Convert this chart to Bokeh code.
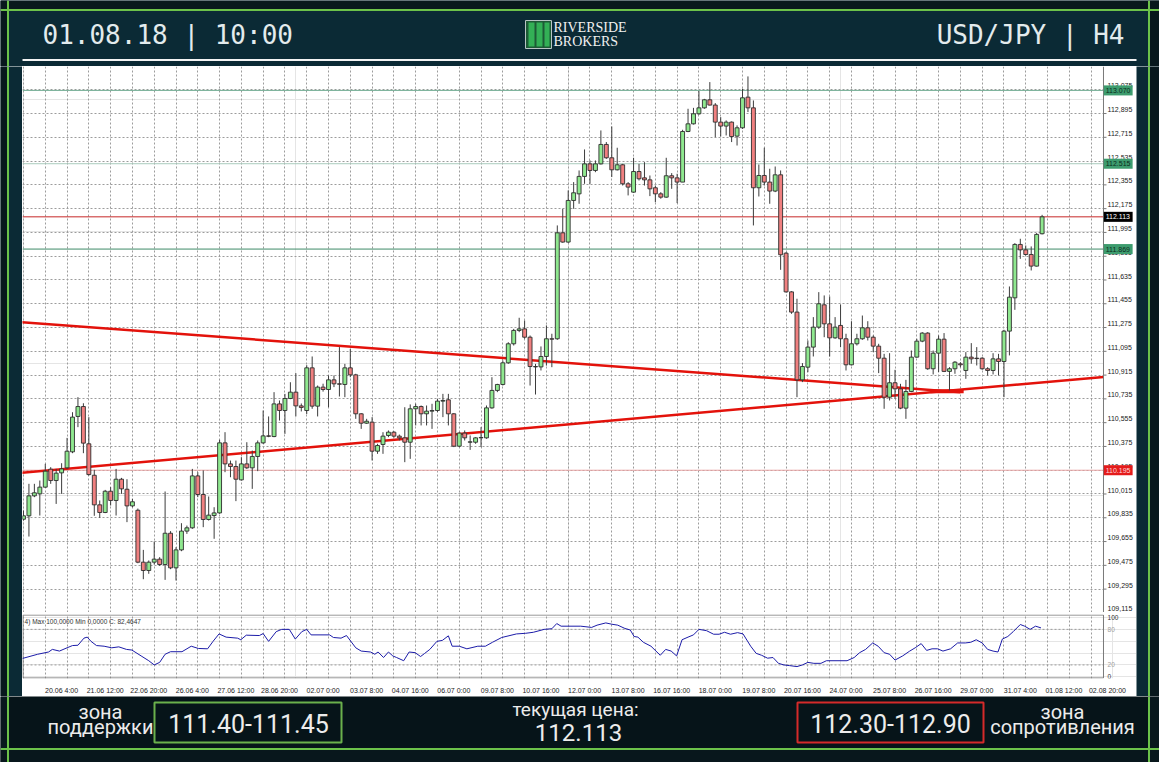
from bokeh.plotting import figure
from bokeh.layouts import column, row
from bokeh.models import Range1d, FixedTicker, LinearAxis, Grid, Span, Label, ColumnDataSource
from bokeh.core.properties import value
from bokeh.embed import file_html
from bokeh.resources import INLINE

# ---------------- data ----------------
header_left = "01.08.18 | 10:00"
header_right = "USD/JPY | H4"
logo_lines = ["RIVERSIDE", "BROKERS"]

opens = [
    109.824, 109.850, 110.001, 110.016, 110.067, 110.203, 110.117, 110.175, 110.213, 110.334,
    110.602, 110.677, 110.395, 110.157, 109.933, 109.875, 110.036, 109.966, 110.127, 110.051,
    109.925, 109.892, 109.499, 109.436, 109.499, 109.522, 109.481, 109.718, 109.456, 109.592,
    109.734, 109.759, 110.152, 110.011, 109.822, 109.852, 109.872, 110.402, 110.243, 110.223,
    110.122, 110.243, 110.213, 110.299, 110.402, 110.455, 110.450, 110.697, 110.647, 110.738,
    110.786, 110.682, 110.647, 110.970, 110.680, 110.824, 110.806, 110.879, 110.849, 110.844,
    110.970, 110.917, 110.622, 110.551, 110.559, 110.339, 110.390, 110.458, 110.483, 110.453,
    110.440, 110.407, 110.660, 110.677, 110.622, 110.642, 110.647, 110.718, 110.728, 110.622,
    110.377, 110.476, 110.407, 110.407, 110.440, 110.440, 110.667, 110.799, 110.844, 111.008,
    111.152, 111.253, 111.265, 111.202, 110.980, 110.977, 111.056, 111.190, 111.190, 111.992,
    111.922, 112.237, 112.287, 112.419, 112.514, 112.464, 112.514, 112.661, 112.560, 112.469,
    112.507, 112.363, 112.300, 112.456, 112.408, 112.393, 112.333, 112.287, 112.262, 112.424,
    112.408, 112.376, 112.759, 112.817, 112.893, 112.938, 112.999, 112.959, 112.830, 112.800,
    112.830, 112.724, 112.787, 113.019, 112.938, 112.333, 112.426, 112.376, 112.308, 112.431,
    111.838, 111.545, 111.392, 110.879, 110.975, 111.127, 111.278, 111.447, 111.303, 111.197,
    111.291, 111.190, 110.993, 111.152, 111.190, 111.273, 111.202, 111.134, 111.043, 110.748,
    110.857, 110.811, 110.665, 110.791, 111.051, 111.172, 111.233, 110.963, 111.081, 111.187,
    110.943, 110.963, 111.000, 110.950, 111.051, 111.043, 111.043, 110.963, 110.950, 111.038,
    111.018, 111.248, 111.500, 111.904, 111.863, 111.828, 111.740, 111.985,
]
highs = [
    109.890, 110.092, 110.092, 110.117, 110.243, 110.218, 110.205, 110.248, 110.440, 110.634,
    110.748, 110.702, 110.597, 110.198, 109.966, 110.046, 110.067, 110.205, 110.137, 110.127,
    109.978, 109.905, 109.592, 109.512, 109.655, 109.537, 110.034, 109.734, 109.612, 109.794,
    109.776, 110.205, 110.180, 110.193, 109.996, 109.915, 110.425, 110.483, 110.268, 110.268,
    110.294, 110.407, 110.344, 110.420, 110.647, 110.602, 110.786, 110.723, 110.773, 110.861,
    110.930, 110.700, 110.990, 111.056, 110.836, 110.850, 110.912, 110.912, 111.127, 111.000,
    111.114, 110.925, 110.627, 110.584, 110.597, 110.395, 110.483, 110.496, 110.491, 110.465,
    110.672, 110.693, 110.698, 110.685, 110.685, 110.698, 110.735, 110.773, 110.773, 110.627,
    110.483, 110.496, 110.458, 110.445, 110.521, 110.685, 110.899, 110.849, 111.026, 111.164,
    111.265, 111.349, 111.328, 111.215, 111.000, 111.132, 111.291, 111.228, 112.048, 112.174,
    112.313, 112.376, 112.464, 112.623, 112.540, 112.540, 112.767, 112.679, 112.797, 112.636,
    112.514, 112.376, 112.560, 112.514, 112.527, 112.426, 112.350, 112.300, 112.560, 112.444,
    112.439, 112.772, 112.931, 112.938, 113.065, 113.006, 113.133, 112.974, 112.868, 112.843,
    112.835, 112.805, 113.082, 113.176, 112.994, 112.509, 112.636, 112.477, 112.494, 112.464,
    111.846, 111.550, 111.493, 111.006, 111.177, 111.354, 111.543, 111.518, 111.510, 111.354,
    111.450, 111.228, 111.323, 111.228, 111.366, 111.323, 111.215, 111.152, 111.076, 111.081,
    110.955, 110.849, 110.879, 111.101, 111.190, 111.240, 111.240, 111.101, 111.215, 111.233,
    110.975, 111.021, 111.013, 111.089, 111.157, 111.127, 111.051, 110.975, 111.081, 111.076,
    111.258, 111.586, 111.914, 111.947, 111.896, 111.889, 111.990, 112.128,
]
lows = [
    109.814, 109.693, 109.991, 109.852, 110.062, 110.092, 109.940, 110.016, 110.205, 110.324,
    110.521, 110.324, 110.155, 109.850, 109.834, 109.870, 109.928, 109.852, 110.016, 109.802,
    109.915, 109.491, 109.370, 109.411, 109.481, 109.471, 109.365, 109.446, 109.360, 109.582,
    109.713, 109.751, 109.991, 109.764, 109.814, 109.676, 109.865, 110.180, 110.142, 109.961,
    110.117, 110.205, 110.054, 110.188, 110.395, 110.445, 110.445, 110.571, 110.470, 110.733,
    110.602, 110.640, 110.620, 110.660, 110.602, 110.790, 110.672, 110.824, 110.753, 110.748,
    110.899, 110.584, 110.508, 110.546, 110.269, 110.319, 110.319, 110.445, 110.440, 110.420,
    110.256, 110.281, 110.534, 110.534, 110.534, 110.508, 110.634, 110.597, 110.534, 110.370,
    110.370, 110.420, 110.349, 110.395, 110.370, 110.433, 110.660, 110.786, 110.836, 111.000,
    111.139, 111.240, 111.190, 110.836, 110.768, 110.950, 110.987, 110.975, 111.182, 111.917,
    111.917, 112.174, 112.212, 112.363, 112.363, 112.451, 112.509, 112.552, 112.414, 112.464,
    112.350, 112.275, 112.295, 112.388, 112.350, 112.270, 112.224, 112.250, 112.257, 112.325,
    112.217, 112.376, 112.754, 112.812, 112.885, 112.931, 112.956, 112.716, 112.721, 112.729,
    112.679, 112.653, 112.779, 112.906, 112.048, 112.267, 112.350, 112.212, 112.300, 111.712,
    111.540, 111.379, 110.748, 110.862, 110.937, 111.056, 111.265, 111.202, 111.056, 111.190,
    111.127, 110.950, 110.988, 111.139, 111.182, 111.177, 111.089, 110.930, 110.660, 110.723,
    110.736, 110.657, 110.584, 110.786, 111.046, 111.164, 110.955, 110.920, 110.938, 110.938,
    110.799, 110.925, 110.975, 110.887, 111.001, 110.988, 110.955, 110.912, 110.920, 110.912,
    110.748, 111.064, 111.409, 111.795, 111.821, 111.707, 111.737, 111.980,
]
closes = [
    109.850, 110.001, 110.024, 110.067, 110.188, 110.117, 110.173, 110.205, 110.339, 110.597,
    110.677, 110.400, 110.162, 109.933, 109.875, 110.036, 109.966, 110.127, 110.054, 109.925,
    109.956, 109.499, 109.436, 109.499, 109.522, 109.481, 109.718, 109.456, 109.592, 109.734,
    109.759, 110.152, 110.011, 109.822, 109.855, 109.872, 110.402, 110.243, 110.223, 110.127,
    110.243, 110.213, 110.299, 110.402, 110.455, 110.452, 110.697, 110.647, 110.738, 110.786,
    110.682, 110.670, 110.970, 110.680, 110.824, 110.806, 110.879, 110.849, 110.846, 110.970,
    110.917, 110.622, 110.551, 110.566, 110.339, 110.382, 110.453, 110.483, 110.453, 110.440,
    110.407, 110.660, 110.677, 110.622, 110.642, 110.647, 110.718, 110.723, 110.622, 110.377,
    110.476, 110.440, 110.410, 110.440, 110.443, 110.667, 110.799, 110.844, 111.008, 111.152,
    111.253, 111.265, 111.202, 110.980, 110.977, 111.056, 111.190, 111.187, 111.992, 111.922,
    112.237, 112.295, 112.419, 112.514, 112.464, 112.514, 112.661, 112.560, 112.469, 112.507,
    112.363, 112.338, 112.456, 112.401, 112.393, 112.325, 112.287, 112.262, 112.424, 112.408,
    112.376, 112.759, 112.817, 112.893, 112.938, 112.999, 112.959, 112.830, 112.800, 112.830,
    112.721, 112.787, 113.014, 112.938, 112.333, 112.426, 112.376, 112.308, 112.431, 111.826,
    111.545, 111.392, 110.879, 110.980, 111.127, 111.278, 111.455, 111.303, 111.197, 111.278,
    111.190, 110.993, 111.152, 111.190, 111.273, 111.202, 111.134, 111.043, 110.748, 110.857,
    110.811, 110.665, 110.791, 111.051, 111.172, 111.233, 110.963, 111.081, 111.187, 110.943,
    110.963, 111.013, 110.993, 111.051, 111.038, 111.040, 110.963, 110.950, 111.038, 111.018,
    111.248, 111.505, 111.904, 111.863, 111.828, 111.740, 111.980, 112.113,
]

# oscillator (bar position, value)
osc_points = [
    (-0.2, 30.9), (2.6, 38.0), (4.6, 41.8), (5.3, 46.2), (6.6, 43.4), (8.0, 48.9), (9.0, 52.7),
    (10.0, 53.2), (11.1, 65.2), (11.7, 66.9), (12.4, 59.8), (13.4, 52.7), (14.8, 51.6), (16.2, 48.9),
    (17.5, 50.5), (18.9, 46.2), (19.9, 45.1), (21.6, 35.2), (23.0, 27.1), (24.0, 20.0), (25.0, 24.3),
    (26.0, 38.0), (27.0, 42.3), (29.1, 42.3), (30.8, 51.6), (32.1, 47.8), (33.8, 47.2), (34.8, 59.8),
    (35.9, 72.3), (37.2, 66.9), (39.3, 65.2), (39.9, 62.5), (40.9, 70.2), (43.3, 69.6), (44.0, 72.9),
    (45.0, 59.8), (46.4, 76.2), (47.4, 80.0), (48.8, 80.0), (49.9, 63.6), (51.1, 76.2), (52.0, 80.0),
    (52.8, 70.7), (56.2, 70.7), (56.9, 66.3), (58.3, 65.2), (59.3, 69.6), (61.0, 48.9), (62.0, 43.4),
    (63.7, 41.8), (64.5, 38.0), (65.1, 41.8), (66.1, 32.5), (67.0, 41.8), (67.8, 35.2), (68.5, 32.5),
    (69.8, 27.1), (70.8, 41.8), (71.9, 40.7), (72.9, 34.2), (73.6, 39.1), (74.6, 46.2), (75.9, 59.8),
    (76.9, 61.4), (78.0, 69.1), (78.7, 51.6), (80.0, 51.6), (81.4, 47.2), (83.4, 51.6), (84.8, 51.6),
    (86.1, 58.2), (87.8, 66.3), (90.5, 72.3), (92.2, 73.4), (93.6, 75.1), (95.6, 80.0), (97.0, 81.1),
    (97.9, 89.8), (98.7, 85.4), (102.3, 85.4), (104.3, 83.3), (105.3, 87.1), (106.9, 90.9), (108.0, 88.7),
    (109.1, 87.1), (110.4, 81.6), (111.4, 78.9), (112.1, 68.0), (112.8, 66.9), (113.8, 58.2), (115.2, 51.6),
    (116.9, 36.3), (117.9, 46.2), (118.9, 43.4), (119.9, 35.2), (120.9, 62.5), (122.0, 66.9), (123.0, 70.7),
    (124.0, 80.0), (125.4, 77.8), (126.7, 71.8), (127.7, 71.8), (128.7, 75.1), (129.8, 71.8), (131.1, 74.5),
    (132.1, 72.3), (133.5, 51.6), (134.5, 39.6), (135.5, 36.3), (136.6, 31.4), (137.6, 32.5), (138.6, 22.7),
    (139.6, 20.0), (140.6, 18.9), (142.0, 17.2), (143.0, 20.0), (144.0, 24.3), (145.1, 22.7), (146.4, 22.7),
    (147.4, 27.1), (151.2, 27.1), (152.5, 32.5), (153.5, 40.7), (154.6, 46.2), (155.9, 57.1), (156.9, 51.6),
    (158.0, 40.7), (159.0, 38.0), (160.0, 28.2), (161.4, 35.2), (162.7, 43.4), (163.7, 48.9), (164.8, 56.0),
    (165.8, 44.5), (166.8, 47.2), (167.8, 47.2), (168.8, 43.4), (170.2, 47.2), (171.5, 57.1), (172.9, 57.1),
    (173.9, 58.2), (174.9, 62.5), (176.0, 57.1), (177.0, 46.2), (178.0, 43.4), (178.9, 41.8), (179.7, 63.6),
    (180.7, 68.0), (181.7, 76.2), (183.0, 88.2), (183.8, 85.4), (184.8, 80.0), (185.8, 85.4), (186.8, 82.5),
]
osc_caption = "4) Max 100,0000  Min 0,0000  C: 82,4647"
osc_ticks = [0, 20, 80, 100]
osc_tick_labels = ["0", "20", "80", "100"]
osc_tick_colors = ["#333333", "#a0a0a0", "#a0a0a0", "#333333"]
osc_levels = [20, 80]

price_ticks = [109.115, 109.295, 109.475, 109.655, 109.835, 110.015, 110.195, 110.375,
               110.555, 110.735, 110.915, 111.095, 111.275, 111.455, 111.635, 111.815,
               111.995, 112.175, 112.355, 112.535, 112.715, 112.895, 113.075]
price_tick_labels = ["109,115", "109,295", "109,475", "109,655", "109,835", "110,015",
                     "110,195", "110,375", "110,555", "110,735", "110,915", "111,095",
                     "111,275", "111,455", "111,635", "111,815", "111,995", "112,175",
                     "112,355", "112,535", "112,715", "112,895", "113,075"]

time_label_bars = [4, 12, 20, 28, 36, 44, 52, 60, 68, 76, 84, 92, 100, 108, 116, 124,
                   132, 140, 148, 156, 164, 172, 180, 188, 196]
time_labels = ["20.06 4:00", "21.06 12:00", "22.06 20:00", "26.06 4:00", "27.06 12:00",
               "28.06 20:00", "02.07 0:00", "03.07 8:00", "04.07 16:00", "06.07 0:00",
               "09.07 8:00", "10.07 16:00", "12.07 0:00", "13.07 8:00", "16.07 16:00",
               "18.07 0:00", "19.07 8:00", "20.07 16:00", "24.07 0:00", "25.07 8:00",
               "26.07 16:00", "29.07 0:00", "31.07 4:00", "01.08 12:00", "02.08 20:00"]
grid_bars = list(range(0, 200, 4))

level_prices = [113.070, 112.515, 112.113, 111.869, 110.195]
level_texts = ["113.070", "112.515", "112.113", "111.869", "110.195"]
level_colors = ["#74ad95", "#a9cbbd", "#c62828", "#3f8a68", "#e9a4a4"]
level_box_bg = ["#3d9c6e", "#3d9c6e", "#000000", "#3d9c6e", "#e41b1b"]
level_box_fg = ["#0b2b1c", "#0b2b1c", "#ffffff", "#0b2b1c", "#ffd6d6"]

trend_down_bars = [-0.3, 172.0]
trend_down_prices = [111.316, 110.786]
trend_up_bars = [-0.3, 198.3]
trend_up_prices = [110.176, 110.901]
trend_mark_bars = [166.5, 172.6]
trend_mark_prices = [110.793, 110.793]

support_zone = "111.40-111.45"
resistance_zone = "112.30-112.90"
current_price_caption = "текущая цена:"
current_price = "112.113"
support_caption = ["зона", "поддержки"]
resistance_caption = ["зона", "сопротивления"]

# ---------------- styling ----------------
GREEN = "#6cc24a"
TEAL = "#0b2a35"
OUTER = "#08171c"
DARK = "#061419"
SANS = value("Roboto")
SMALL = "Liberation Sans"
AXIS_BAR = 198.27      # bar position of the price-scale line (x = 1103 px)
X_END = 204.33         # right edge of the white chart area, in bars (x = 1136 px)


def blank(width, height, xr, yr, bg):
    f = figure(width=width, height=height, x_range=xr, y_range=yr,
               output_backend="svg", toolbar_location=None,
               x_axis_location=None, y_axis_location=None,
               min_border_left=0, min_border_right=0, min_border_top=0, min_border_bottom=0,
               background_fill_color=bg, border_fill_color=bg, outline_line_color=None)
    f.grid.visible = False
    return f


# ---------------- header (y 0..66) ----------------
header = blank(1159, 66, Range1d(0, 1159), Range1d(66, 0), TEAL)
header.quad(left=[0], right=[1159], top=[0], bottom=[8.5], fill_color=OUTER, line_color=None)
header.quad(left=[0, 1149.5], right=[6.5, 1159], top=[0, 0], bottom=[66, 66],
            fill_color=OUTER, line_color=None)
header.add_layout(Span(location=9.5, dimension="width", line_color=GREEN, line_width=2))
header.add_layout(Span(location=7.5, dimension="height", line_color=GREEN, line_width=2))
header.add_layout(Span(location=1148.5, dimension="height", line_color=GREEN, line_width=2))
header.line([22, 1136], [59.5, 59.5], line_color="#f4f4f4", line_width=2)
header.text(x=[42], y=[34], text=[header_left], text_font=value("DejaVu Sans Mono"),
            text_font_size="26px", text_color="#e3ebed", text_align="left", text_baseline="middle")
header.text(x=[1124], y=[34], text=[header_right], text_font=value("DejaVu Sans Mono"),
            text_font_size="26px", text_color="#e3ebed", text_align="right", text_baseline="middle")
header.quad(left=[525], right=[551], top=[20], bottom=[48], fill_color="#1d5a36",
            line_color="#b8c4c4", line_width=1)
header.quad(left=[528, 536, 544], right=[534, 542, 549], top=[22, 22, 22], bottom=[46, 46, 46],
            fill_color="#33b056", line_color=None)
header.text(x=[553, 553], y=[27, 41], text=logo_lines, text_font=value("Liberation Serif"),
            text_font_size="14px", text_color="#f0f0f0", text_align="left", text_baseline="middle")

# ---------------- main candle chart (x 22..1136, y 66..612) ----------------
bars = list(range(len(opens)))
tops = [max(o, c) for o, c in zip(opens, closes)]
bottoms = [min(o, c) for o, c in zip(opens, closes)]
colors = ["#8fe88f" if c >= o else "#f08080" for o, c in zip(opens, closes)]
src = ColumnDataSource(dict(x=bars, h=highs, l=lows, t=tops, b=bottoms, c=colors))

xr = Range1d(-0.18, X_END)
yr = Range1d(109.118, 113.251)
main = figure(width=1114, height=546, x_range=xr, y_range=yr,
              output_backend="svg", toolbar_location=None,
              x_axis_location=None, y_axis_location=None,
              min_border_left=0, min_border_right=0, min_border_top=0, min_border_bottom=0,
              background_fill_color="white", border_fill_color="white", outline_line_color=None)
main.add_layout(Grid(dimension=0, ticker=FixedTicker(ticks=grid_bars),
                     grid_line_color="#9c9c9c", grid_line_dash="2 2", grid_line_width=1))
main.add_layout(Grid(dimension=1, ticker=FixedTicker(ticks=price_ticks),
                     grid_line_color="#9c9c9c", grid_line_dash="2 2", grid_line_width=1))
# white price-scale column right of the scale line (hides the grid there)
main.quad(left=[AXIS_BAR], right=[X_END + 1], bottom=[yr.start - 1], top=[yr.end + 1],
          fill_color="white", line_color=None)
main.add_layout(Span(location=AXIS_BAR, dimension="height", line_color="#7a7a7a", line_width=1))

# price scale: tick marks and labels (labels sit just above their grid line, as in MT4)
nt = len(price_ticks)
main.segment(x0=[AXIS_BAR] * nt, x1=[AXIS_BAR + 0.55] * nt, y0=price_ticks, y1=price_ticks,
             line_color="#7a7a7a", line_width=1)
main.text(x=[AXIS_BAR + 0.75] * nt, y=[t + 0.03 for t in price_ticks], text=price_tick_labels,
          text_font=value(SMALL), text_font_size="7px", text_color="#222222",
          text_align="left", text_baseline="middle")

main.segment(x0=[-0.18] * len(level_prices), x1=[AXIS_BAR] * len(level_prices),
             y0=level_prices, y1=level_prices, line_color=level_colors, line_width=1)

main.line(trend_down_bars, trend_down_prices, line_color="#e3120b", line_width=2.5)
main.line(trend_up_bars, trend_up_prices, line_color="#e3120b", line_width=2.5)
main.line(trend_mark_bars, trend_mark_prices, line_color="#e3120b", line_width=4)

main.segment(x0="x", y0="h", x1="x", y1="l", source=src, line_color="#3c3c3c", line_width=1)
main.vbar(x="x", width=0.72, top="t", bottom="b", source=src, fill_color="c",
          line_color="#2e2e2e", line_width=0.9)

# coloured price boxes on the price scale
nl = len(level_prices)
main.quad(left=[AXIS_BAR + 0.05] * nl, right=[AXIS_BAR + 5.35] * nl,
          bottom=[p - 0.038 for p in level_prices], top=[p + 0.038 for p in level_prices],
          fill_color=level_box_bg, line_color=None, level="overlay")
main.text(x=[AXIS_BAR + 0.4] * nl, y=level_prices, text=level_texts,
          text_font=value(SMALL), text_font_size="7px", text_color=level_box_fg,
          text_align="left", text_baseline="middle", level="overlay")

# ---------------- oscillator (y 612..696), same frame width as the main chart ----------------
oyr = Range1d(-2.9, 105.1)
osc = figure(width=1114, height=84, x_range=xr, y_range=oyr,
             output_backend="svg", toolbar_location=None,
             x_axis_location=None, y_axis_location=None,
             min_border_left=0, min_border_right=0, min_border_top=2, min_border_bottom=14,
             background_fill_color="white", border_fill_color="white", outline_line_color=None)
osc.add_layout(Grid(dimension=0, ticker=FixedTicker(ticks=grid_bars),
                    grid_line_color="#9c9c9c", grid_line_dash="2 2", grid_line_width=1))
osc.segment(x0=[-0.18] * len(osc_levels), x1=[AXIS_BAR] * len(osc_levels),
            y0=osc_levels, y1=osc_levels, line_color="#9c9c9c", line_dash="2 2", line_width=1)
# panel frame (ends at the scale line)
osc.quad(left=[-0.1], right=[AXIS_BAR], bottom=[oyr.start + 0.9], top=[oyr.end - 0.9],
         fill_color=None, line_color="#7a7a7a", line_width=1)
osc.line([p[0] for p in osc_points], [p[1] for p in osc_points],
         line_color="#1c1ca8", line_width=1)
osc.text(x=[0.2], y=[94], text=[osc_caption], text_font=value(SMALL), text_font_size="6.5px",
         text_color="#333333", text_baseline="middle", text_align="left")
osc.text(x=[AXIS_BAR + 0.75] * len(osc_ticks), y=osc_ticks, text=osc_tick_labels,
         text_font=value(SMALL), text_font_size="6.5px", text_color=osc_tick_colors,
         text_align="left", text_baseline="middle")
tick_pos = [b + 3 for b in time_label_bars]
ox = LinearAxis(ticker=FixedTicker(ticks=tick_pos),
                major_label_overrides={t: s for t, s in zip(tick_pos, time_labels)},
                axis_line_color=None, major_tick_line_color=None, minor_tick_line_color=None,
                major_label_text_font=SMALL, major_label_text_font_size="7px",
                major_label_text_color="#222222", major_label_standoff=2)
osc.add_layout(ox, "below")

# ---------------- side strips (y 66..696) ----------------
left = blank(22, 630, Range1d(0, 22), Range1d(0, 1), TEAL)
left.quad(left=[0], right=[6.5], bottom=[0], top=[1], fill_color=OUTER, line_color=None)
left.add_layout(Span(location=7.5, dimension="height", line_color=GREEN, line_width=2))
right = blank(23, 630, Range1d(1136, 1159), Range1d(0, 1), TEAL)
right.quad(left=[1149.5], right=[1159], bottom=[0], top=[1], fill_color=OUTER, line_color=None)
right.add_layout(Span(location=1148.5, dimension="height", line_color=GREEN, line_width=2))

# ---------------- bottom bar (y 696..762) ----------------
bottom = blank(1159, 66, Range1d(0, 1159), Range1d(762, 696), DARK)
bottom.quad(left=[0], right=[1159], top=[749.5], bottom=[762], fill_color=OUTER, line_color=None)
bottom.quad(left=[0, 1149.5], right=[6.5, 1159], top=[696, 696], bottom=[762, 762],
            fill_color=OUTER, line_color=None)
bottom.add_layout(Span(location=748.5, dimension="width", line_color=GREEN, line_width=2))
bottom.add_layout(Span(location=7.5, dimension="height", line_color=GREEN, line_width=2))
bottom.add_layout(Span(location=1148.5, dimension="height", line_color=GREEN, line_width=2))
bottom.quad(left=[154], right=[341], top=[702], bottom=[742], fill_color=None,
            line_color="#6ab04c", line_width=2)
bottom.quad(left=[797], right=[983], top=[702], bottom=[742], fill_color=None,
            line_color="#d42a2a", line_width=2)
TXT = "#ececec"
bottom.text(x=[100, 100], y=[711, 726], text=support_caption, text_font=SANS,
            text_font_size="20px", text_color=TXT, text_align="center", text_baseline="middle")
bottom.text(x=[1062, 1062], y=[711, 726], text=resistance_caption, text_font=SANS,
            text_font_size="20px", text_color=TXT, text_align="center", text_baseline="middle")
bottom.text(x=[248], y=[723], text=[support_zone], text_font=SANS, text_font_size="25px",
            text_color=TXT, text_align="center", text_baseline="middle")
bottom.text(x=[890], y=[723], text=[resistance_zone], text_font=SANS, text_font_size="25px",
            text_color=TXT, text_align="center", text_baseline="middle")
bottom.text(x=[575], y=[709], text=[current_price_caption], text_font=SANS,
            text_font_size="19px", text_color=TXT, text_align="center", text_baseline="middle")
bottom.text(x=[578], y=[732], text=[current_price], text_font=SANS, text_font_size="24px",
            text_color=TXT, text_align="center", text_baseline="middle")

layout = column(header,
                row(left, column(main, osc, spacing=0), right, spacing=0),
                bottom, spacing=0)

open("out.html", "w").write(file_html(layout, INLINE))
